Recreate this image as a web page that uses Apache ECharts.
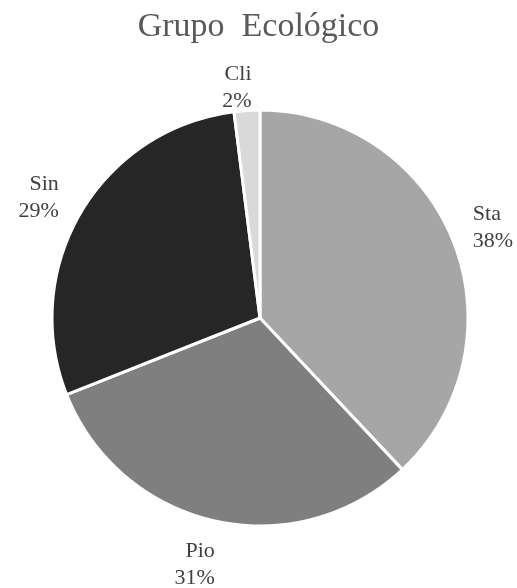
<!DOCTYPE html>
<html>
<head>
<meta charset="utf-8">
<script src="https://cdn.jsdelivr.net/npm/echarts@6/dist/echarts.min.js"></script>
<style>
  html, body { margin: 0; padding: 0; background: #fff; }
  #chart { width: 517px; height: 588px; }
</style>
</head>
<body>
<div id="chart"></div>
<script>
const categories = ['Sta', 'Pio', 'Sin', 'Cli'];
const values = [38, 31, 29, 2];
const colors = ['#a6a6a6', '#7f7f7f', '#262626', '#d9d9d9'];
// per-slice label line lengths (hidden lines, only used to place the labels like Excel does)
const lineLen = [37, 45, 28, 23];
const lineLen2 = [-15, -10, -2, -6];

const myChart = echarts.init(document.getElementById('chart'));
const option = {
  animation: false,
  title: {
    text: 'Grupo  Ecológico',
    left: 'center',
    top: 5,
    textStyle: {
      fontFamily: 'Liberation Serif',
      fontWeight: 'normal',
      fontSize: 34,
      color: '#595959'
    }
  },
  series: [
    {
      type: 'pie',
      center: [260, 318],
      radius: 208,
      startAngle: 90,
      clockwise: true,
      avoidLabelOverlap: false,
      itemStyle: { borderColor: '#fff', borderWidth: 3 },
      label: {
        show: true,
        position: 'outside',
        distanceToLabelLine: 0,
        formatter: '{b}\n{d}%',
        fontFamily: 'Liberation Serif',
        fontSize: 22,
        lineHeight: 27,
        color: '#404040',
        align: 'center'
      },
      labelLine: { show: false, length: 18, length2: 0 },
      data: categories.map((c, i) => ({
        name: c,
        value: values[i],
        itemStyle: { color: colors[i] },
        labelLine: { show: false, length: lineLen[i], length2: lineLen2[i] }
      }))
    }
  ]
};
myChart.setOption(option);
</script>
</body>
</html>
